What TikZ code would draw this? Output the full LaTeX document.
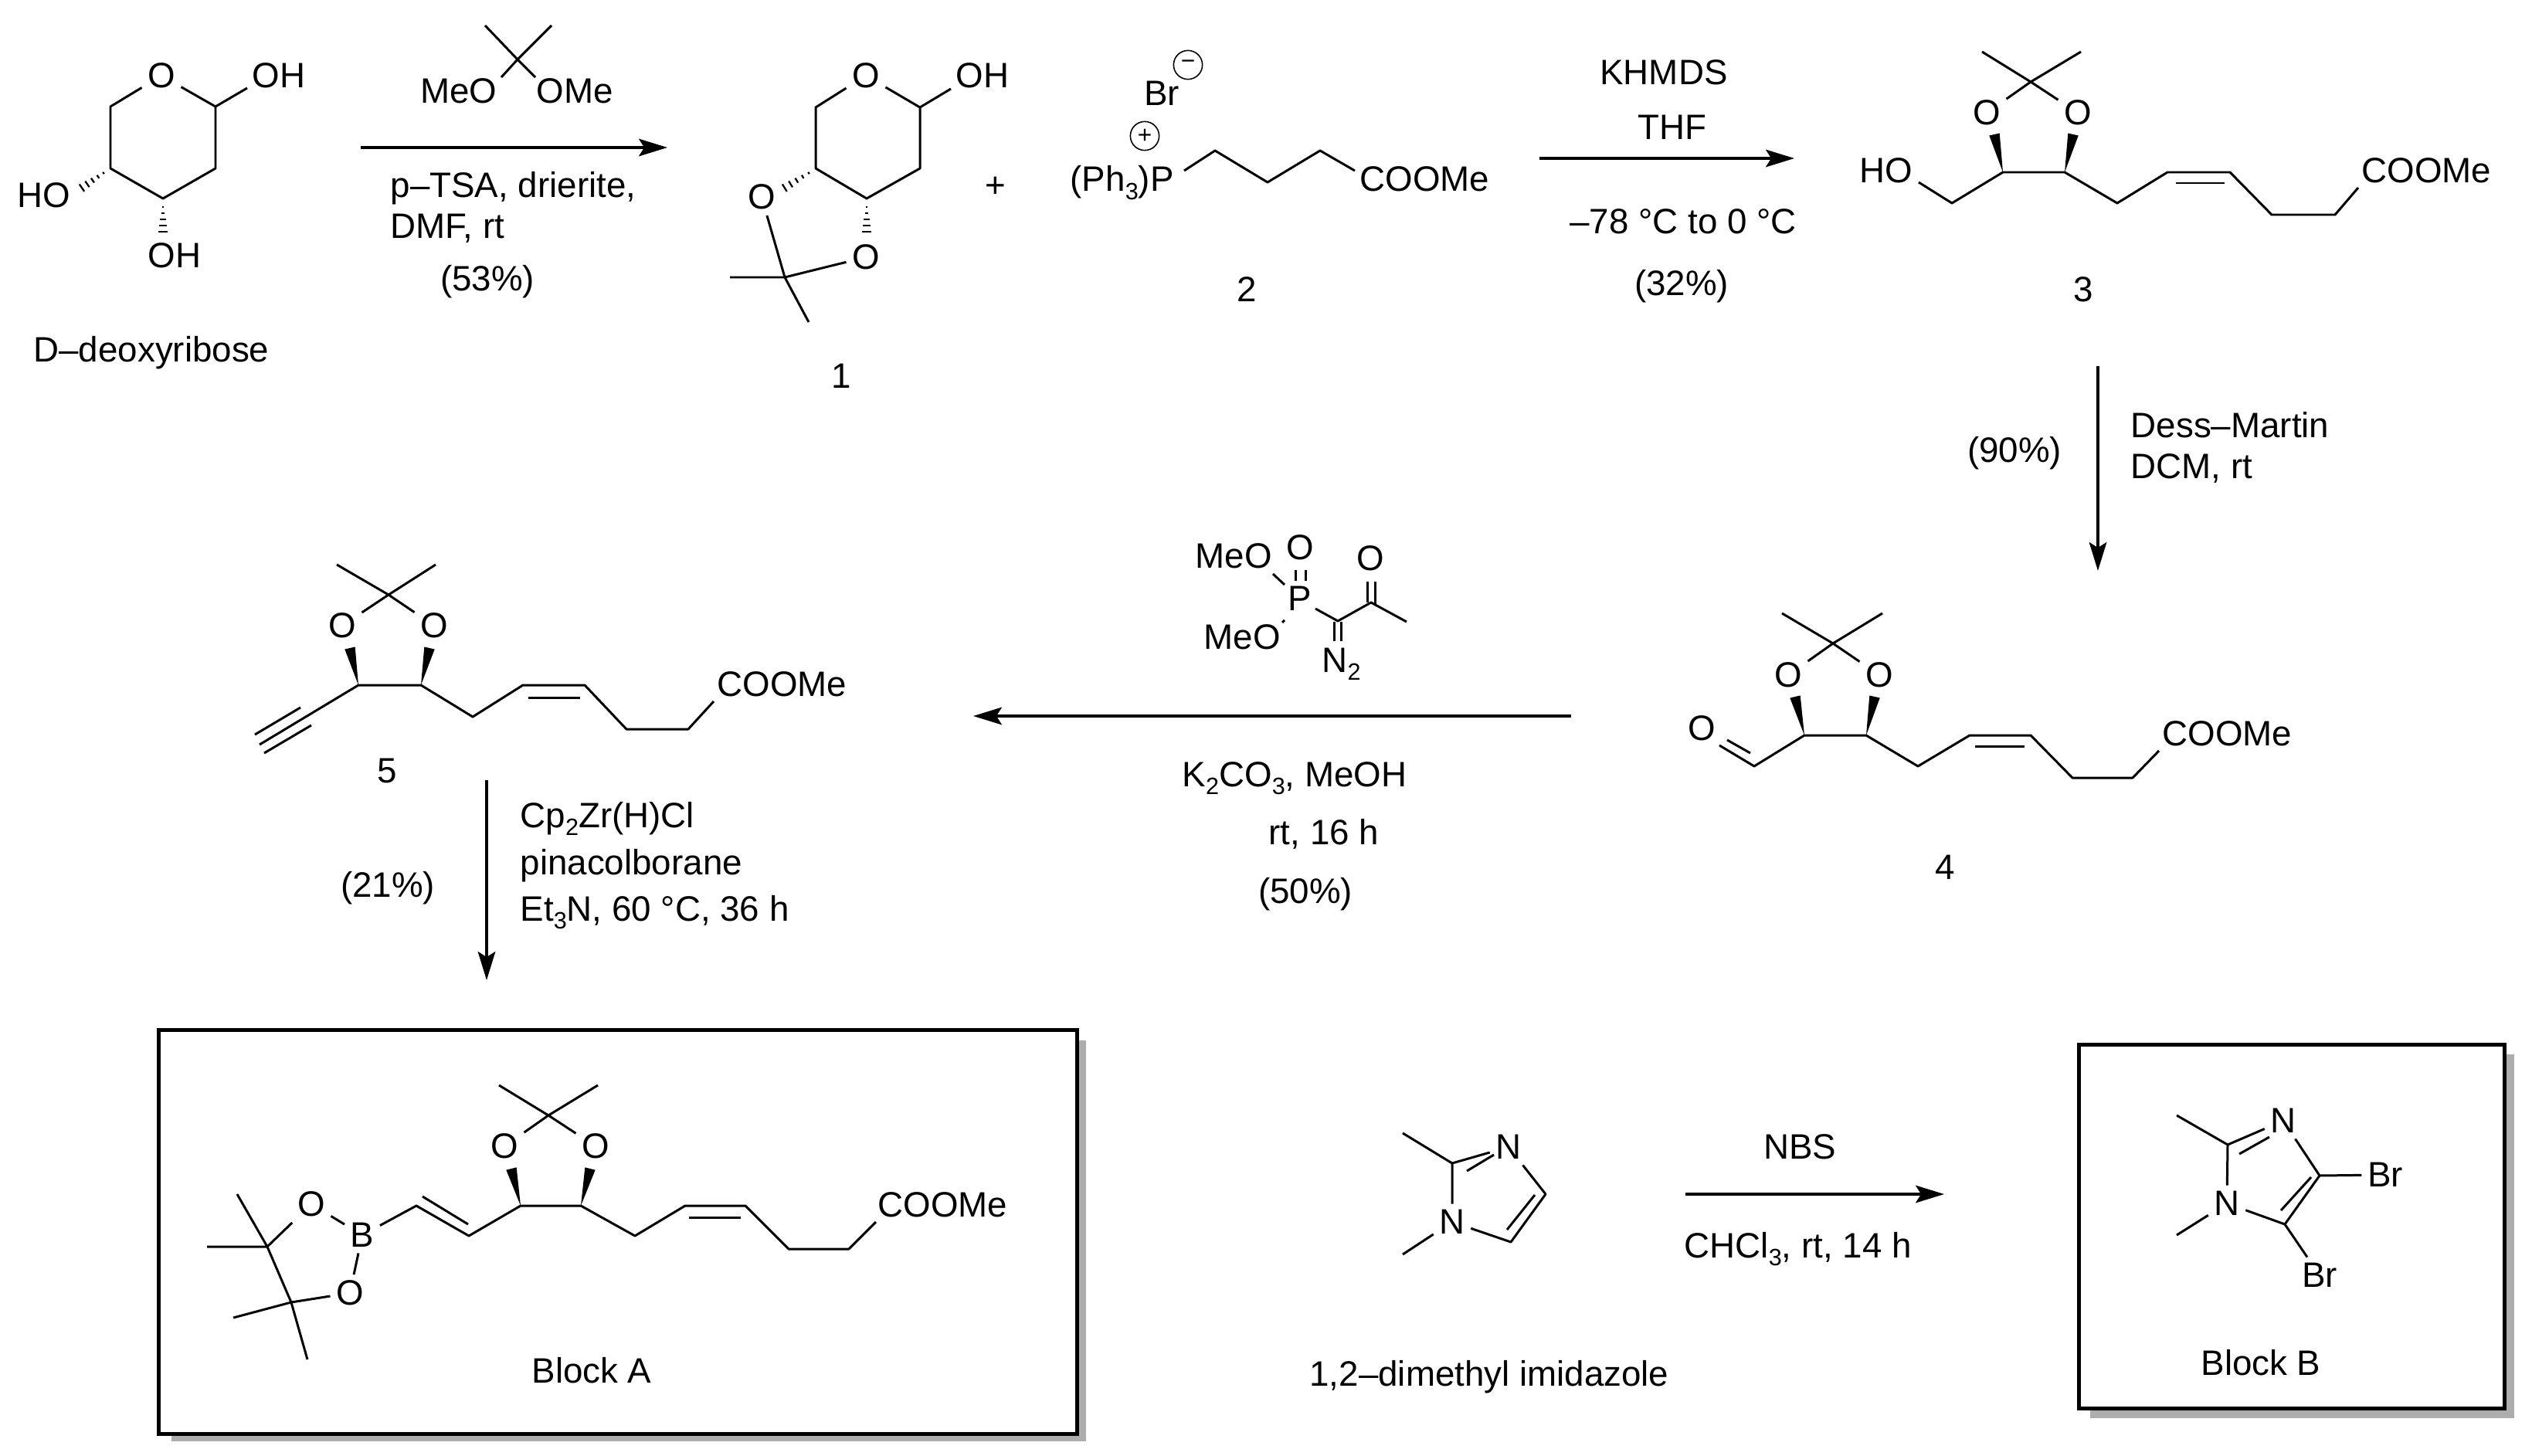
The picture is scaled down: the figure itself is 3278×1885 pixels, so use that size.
\documentclass[tikz,border=0pt]{standalone}
\usepackage{fontspec}
\setmainfont{Liberation Sans}
\usetikzlibrary{arrows.meta,calc}
\newcommand\chemsub[1]{\raisebox{-.22em}{\fontsize{8.7}{10}\selectfont #1}}
\newcommand\hashbond[2]{\foreach \hf in {0,0.2,0.4,0.6,0.8,1}{\pgfmathsetmacro\hw{0.4+1.5*\hf}\draw[hashline] ($(#1)!\hf!(#2)!\hw pt!90:(#2)$) -- ($(#1)!\hf!(#2)!\hw pt!-90:(#2)$);}}
\newcommand\wedgebond[2]{\fill ($(#2)!1.95pt!90:(#1)$) -- (#1) -- ($(#2)!1.95pt!-90:(#1)$) -- cycle;}
\tikzset{
  lab/.style={font=\fontsize{13}{15}\selectfont,inner sep=0pt},
  tc/.style={lab,anchor=center},
  tl/.style={lab,anchor=base west},
  atom/.style={lab,anchor=center,inner sep=2pt},
  bond/.style={line width=0.85pt,line join=round},
  hashline/.style={line width=0.65pt},
  rxn/.style={line width=1pt,-{Stealth[length=10.5pt,width=6.4pt,inset=2pt]}},
  chg/.style={circle,draw,line width=0.45pt,minimum size=10.6pt,inner sep=0pt,font=\fontsize{9}{10}\selectfont},
  blockbox/.style={draw,line width=1.4pt,fill=white},
  blockshadow/.style={fill=black!32},
}
\begin{document}
\begin{tikzpicture}[x=0.01cm,y=-0.01cm]
\useasboundingbox (0,0) rectangle (3278,1885);
% ---------- D-deoxyribose
\coordinate (a1) at (143,138);\coordinate (a2) at (279,138);\coordinate (a3) at (279,218);\coordinate (a4) at (211,257);\coordinate (a5) at (143,218);
\coordinate (aoh) at (320,114);\coordinate (ah1) at (134,224);\coordinate (ah2) at (99,248);\coordinate (ah3) at (211,268);\coordinate (ah4) at (211,308);
\node[atom] (aO) at (209,98) {O};
\node[tc] (aOH1) at (361,98) {OH};
\node[tc] (aHO) at (57,253) {HO};
\node[tc] (aOH2) at (226,331) {OH};
\draw[bond] (aO) -- (a1) -- (a5) -- (a4) -- (a3) -- (a2) -- (aO);
\draw[bond] (a2) -- (aoh);
\hashbond{ah1}{ah2}
\hashbond{ah3}{ah4}
\node[tc] (aName) at (196,457) {D–deoxyribose};
% ---------- dimethoxypropane
\coordinate (d0) at (670,77);\coordinate (d1) at (628,33);\coordinate (d2) at (714,33);\coordinate (d3) at (649,100);\coordinate (d4) at (693,100);
\draw[bond] (d1) -- (d0) -- (d4);
\draw[bond] (d2) -- (d0) -- (d3);
\node[tc] (dMeO) at (594,118) {MeO};
\node[tc] (dOMe) at (744,118) {OMe};
% arrow 1
\coordinate (r1s) at (467,191);\coordinate (r1e) at (864,191);
\draw[rxn] (r1s) -- (r1e);
\node[tl] (r1a) at (505,255) {p–TSA, drierite,};
\node[tl] (r1b) at (505,308) {DMF, rt};
\node[tc] (r1c) at (631,365) {(53\%)};
% ---------- compound 1
\coordinate (b1) at (1056,139);\coordinate (b2) at (1191,139);\coordinate (b3) at (1191,218);\coordinate (b4) at (1122,257);\coordinate (b5) at (1056,218);
\coordinate (boh) at (1231,115);\coordinate (bh1) at (1047,224);\coordinate (bh2) at (1008,248);\coordinate (bh3) at (1122,268);\coordinate (bh4) at (1122,308);
\coordinate (bc) at (1016,359);\coordinate (bm1) at (945,359);\coordinate (bm2) at (1047,417);
\node[atom] (bO) at (1121,98) {O};
\node[tc] (bOH) at (1272,98) {OH};
\node[atom] (bO1) at (986,255) {O};
\node[atom] (bO2) at (1121,333) {O};
\draw[bond] (bO) -- (b1) -- (b5) -- (b4) -- (b3) -- (b2) -- (bO);
\draw[bond] (b2) -- (boh);
\hashbond{bh1}{bh2}
\hashbond{bh3}{bh4}
\draw[bond] (bO1) -- (bc) -- (bO2);
\draw[bond] (bm1) -- (bc) -- (bm2);
\node[tc] (bName) at (1089,487) {1};
\node[tc] (plus) at (1289,242) {+};
% ---------- compound 2
\node[tc] (cBr) at (1504,121) {Br};
\node[chg] (cMinus) at (1538,84) {−};
\node[chg] (cPlus) at (1482,176) {+};
\node[tl] (cP) at (1385,248) {(Ph\chemsub{3})P};
\coordinate (c1) at (1533,221);\coordinate (c2) at (1573,195);\coordinate (c3) at (1641,236);\coordinate (c4) at (1709,195);\coordinate (c5) at (1754,221);
\draw[bond] (c1) -- (c2) -- (c3) -- (c4) -- (c5);
\node[tl] (cE) at (1760,248) {COOMe};
\node[tc] (cName) at (1614,375) {2};
% arrow 2
\coordinate (r2s) at (1993,205);\coordinate (r2e) at (2323,205);
\draw[rxn] (r2s) -- (r2e);
\node[tc] (r2a) at (2154,94) {KHMDS};
\node[tc] (r2b) at (2165,165) {THF};
\node[tc] (r2c) at (2179,287) {–78 °C to 0 °C};
\node[tc] (r2d) at (2177,371) {(32\%)};
% ---------- compound 3
\coordinate (e0) at (2629,106);\coordinate (em1) at (2566,67);\coordinate (em2) at (2694,67);
\node[atom] (eO1) at (2572,146) {O};
\node[atom] (eO2) at (2690,146) {O};
\draw[bond] (em1) -- (e0) -- (eO2);
\draw[bond] (em2) -- (e0) -- (eO1);
\coordinate (ew1) at (2582,174);\coordinate (ew2) at (2684,174);
\coordinate (e1) at (2593,223);\coordinate (e2) at (2673,223);
\wedgebond{e1}{ew1}
\wedgebond{e2}{ew2}
\node[tc] (eHO) at (2442,221) {HO};
\coordinate (eoh) at (2484,236);\coordinate (e3) at (2527,263);\coordinate (e4) at (2741,263);\coordinate (e5) at (2806,223);\coordinate (e6) at (2887,223);
\coordinate (e7) at (2941,278);\coordinate (e8) at (3023,278);\coordinate (e9) at (3053,243);\coordinate (ei1) at (2817,237);\coordinate (ei2) at (2880,237);
\draw[bond] (eoh) -- (e3) -- (e1) -- (e2) -- (e4) -- (e5) -- (e6) -- (e7) -- (e8) -- (e9);
\draw[bond] (ei1) -- (ei2);
\node[tl] (eE) at (3057,237) {COOMe};
\node[tc] (eName) at (2697,375) {3};
% arrow DMP
\coordinate (r3s) at (2716,474);\coordinate (r3e) at (2716,739);
\draw[rxn] (r3s) -- (r3e);
\node[tl] (r3a) at (2758,566) {Dess–Martin};
\node[tl] (r3b) at (2758,619) {DCM, rt};
\node[tc] (r3c) at (2608,587) {(90\%)};
% ---------- compound 4
\coordinate (f0) at (2373,833);\coordinate (fm1) at (2307,794);\coordinate (fm2) at (2437,794);
\node[atom] (fO1) at (2315,874) {O};
\node[atom] (fO2) at (2433,874) {O};
\draw[bond] (fm1) -- (f0) -- (fO2);
\draw[bond] (fm2) -- (f0) -- (fO1);
\coordinate (fw1) at (2324,902);\coordinate (fw2) at (2427,902);
\coordinate (f1) at (2336,952);\coordinate (f2) at (2416,952);
\wedgebond{f1}{fw1}
\wedgebond{f2}{fw2}
\coordinate (fa) at (2271,992);\coordinate (fa1) at (2226,965);\coordinate (fa2) at (2266,975);\coordinate (fa3) at (2236,958);
\node[tc] (fO) at (2203,943) {O};
\coordinate (f3) at (2483,992);\coordinate (f4) at (2550,952);\coordinate (f5) at (2629,952);\coordinate (f6) at (2683,1007);\coordinate (f7) at (2761,1007);\coordinate (f8) at (2795,972);
\coordinate (fi1) at (2557,966);\coordinate (fi2) at (2621,966);
\draw[bond] (fa1) -- (fa) -- (f1) -- (f2) -- (f3) -- (f4) -- (f5) -- (f6) -- (f7) -- (f8);
\draw[bond] (fa2) -- (fa3);
\draw[bond] (fi1) -- (fi2);
\node[tl] (fE) at (2799,965) {COOMe};
\node[tc] (fName) at (2518,1123) {4};
% ---------- Ohira-Bestmann reagent
\node[tl] (gMeO1) at (1547,735) {MeO};
\node[tl] (gMeO2) at (1558,840) {MeO};
\node[atom] (gO1) at (1683,709) {O};
\node[atom] (gO2) at (1774,723) {O};
\node[atom] (gP) at (1683,775) {P};
\coordinate (gb1) at (1648,743);\coordinate (gb2) at (1663,757);\coordinate (gb3) at (1660,806);\coordinate (gb4) at (1663,803);
\draw[bond] (gb1) -- (gb2);
\draw[bond] (gb3) -- (gb4);
\coordinate (gd1) at (1677,738);\coordinate (gd2) at (1677,752);\coordinate (gd3) at (1690,738);\coordinate (gd4) at (1690,752);
\draw[bond] (gd1) -- (gd2);
\draw[bond] (gd3) -- (gd4);
\coordinate (gc1) at (1732,804);\coordinate (gc2) at (1775,780);\coordinate (gme) at (1821,805);\coordinate (gp) at (1703,788);
\draw[bond] (gp) -- (gc1) -- (gc2) -- (gme);
\coordinate (gk1) at (1770,753);\coordinate (gk2) at (1770,780);\coordinate (gk3) at (1780,753);\coordinate (gk4) at (1780,783);
\draw[bond] (gk1) -- (gk2);
\draw[bond] (gk3) -- (gk4);
\coordinate (gn1) at (1727,805);\coordinate (gn2) at (1727,830);\coordinate (gn3) at (1736,805);\coordinate (gn4) at (1736,830);
\draw[bond] (gn1) -- (gn2);
\draw[bond] (gn3) -- (gn4);
\node[tl] (gN) at (1711,870) {N\chemsub{2}};
% arrow 4
\coordinate (r4s) at (2034,927);\coordinate (r4e) at (1260,927);
\draw[rxn] (r4s) -- (r4e);
\node[tl] (r4a) at (1530,1018) {K\chemsub{2}CO\chemsub{3}, MeOH};
\node[tl] (r4b) at (1642,1093) {rt, 16 h};
\node[tc] (r4c) at (1690,1158) {(50\%)};
% ---------- compound 5
\coordinate (h0) at (503,770);\coordinate (hm1) at (436,731);\coordinate (hm2) at (564,731);
\node[atom] (hO1) at (443,810) {O};
\node[atom] (hO2) at (562,810) {O};
\draw[bond] (hm1) -- (h0) -- (hO2);
\draw[bond] (hm2) -- (h0) -- (hO1);
\coordinate (hw1) at (453,839);\coordinate (hw2) at (556,839);
\coordinate (h1) at (464,887);\coordinate (h2) at (545,887);
\wedgebond{h1}{hw1}
\wedgebond{h2}{hw2}
\coordinate (ha) at (336,964);\coordinate (hb1) at (389,916);\coordinate (hb2) at (330,951);\coordinate (hb3) at (403,939);\coordinate (hb4) at (342,975);
\coordinate (h3) at (612,928);\coordinate (h4) at (677,887);\coordinate (h5) at (757,887);\coordinate (h6) at (811,944);\coordinate (h7) at (891,944);\coordinate (h8) at (924,908);
\coordinate (hi1) at (684,903);\coordinate (hi2) at (751,903);
\draw[bond] (ha) -- (h1) -- (h2) -- (h3) -- (h4) -- (h5) -- (h6) -- (h7) -- (h8);
\draw[bond] (hb1) -- (hb2);
\draw[bond] (hb3) -- (hb4);
\draw[bond] (hi1) -- (hi2);
\node[tl] (hE) at (928,901) {COOMe};
\node[tc] (hName) at (501,998) {5};
% arrow 5
\coordinate (r5s) at (630,1010);\coordinate (r5e) at (630,1269);
\draw[rxn] (r5s) -- (r5e);
\node[tl] (r5a) at (673,1071) {Cp\chemsub{2}Zr(H)Cl};
\node[tl] (r5b) at (673,1132) {pinacolborane};
\node[tl] (r5c) at (673,1192) {Et\chemsub{3}N, 60 °C, 36 h};
\node[tc] (r5d) at (502,1150) {(21\%)};
% ---------- Block A
\path[blockshadow] (222,1347) rectangle (1406,1866);
\node[blockbox,inner sep=0pt,anchor=north west,minimum width=11.88cm,minimum height=5.23cm] (boxA) at (203,1331) {};
\coordinate (k0) at (710,1444);\coordinate (km1) at (646,1405);\coordinate (km2) at (774,1405);
\node[atom] (kO1) at (653,1484) {O};
\node[atom] (kO2) at (771,1484) {O};
\draw[bond] (km1) -- (k0) -- (kO2);
\draw[bond] (km2) -- (k0) -- (kO1);
\coordinate (kw1) at (662,1513);\coordinate (kw2) at (764,1513);
\coordinate (k1) at (674,1561);\coordinate (k2) at (752,1561);
\wedgebond{k1}{kw1}
\wedgebond{k2}{kw2}
\node[atom] (kB) at (469,1599) {B};
\node[atom] (kO3) at (403,1559) {O};
\node[atom] (kO4) at (453,1674) {O};
\coordinate (kv1) at (539,1561);\coordinate (kv2) at (607,1600);\coordinate (kvi1) at (547,1549);\coordinate (kvi2) at (606,1585);
\draw[bond] (kB) -- (kv1) -- (kv2) -- (k1) -- (k2);
\draw[bond] (kvi1) -- (kvi2);
\draw[bond] (kB) -- (kO3);
\draw[bond] (kB) -- (kO4);
\coordinate (kc1) at (346,1614);\coordinate (kc2) at (377,1686);\coordinate (kp1) at (307,1546);\coordinate (kp2) at (268,1614);\coordinate (kp3) at (302,1706);\coordinate (kp4) at (398,1760);
\draw[bond] (kp1) -- (kc1) -- (kc2) -- (kp4);
\draw[bond] (kp2) -- (kc1) -- (kO3);
\draw[bond] (kp3) -- (kc2) -- (kO4);
\coordinate (k3) at (822,1600);\coordinate (k4) at (887,1561);\coordinate (k5) at (965,1561);\coordinate (k6) at (1021,1617);\coordinate (k7) at (1099,1617);\coordinate (k8) at (1134,1582);
\coordinate (ki1) at (892,1576);\coordinate (ki2) at (959,1576);
\draw[bond] (k2) -- (k3) -- (k4) -- (k5) -- (k6) -- (k7) -- (k8);
\draw[bond] (ki1) -- (ki2);
\node[tl] (kE) at (1136,1575) {COOMe};
\node[tc] (kName) at (766,1774) {Block A};
% ---------- 1,2-dimethyl imidazole
\coordinate (m2) at (1880,1506);\coordinate (mme) at (1816,1467);\coordinate (m4) at (2001,1546);\coordinate (m5) at (1956,1608);\coordinate (mme2) at (1816,1624);
\node[atom] (mN3) at (1953,1485) {N};
\node[atom] (mN1) at (1880,1582) {N};
\draw[bond] (mme) -- (m2) -- (mN1);
\draw[bond] (m2) -- (mN3);
\draw[bond] (mN3) -- (m4) -- (m5) -- (mN1);
\draw[bond] (mN1) -- (mme2);
\coordinate (mi1) at (1899,1516);\coordinate (mi2) at (1934,1495);\coordinate (mi3) at (1987,1547);\coordinate (mi4) at (1951,1592);
\draw[bond] (mi1) -- (mi2);
\draw[bond] (mi3) -- (mi4);
\node[tc] (mName) at (1928,1783) {1,2–dimethyl imidazole};
% arrow 6
\coordinate (r6s) at (2182,1546);\coordinate (r6e) at (2517,1546);
\draw[rxn] (r6s) -- (r6e);
\node[tc] (r6a) at (2330,1485) {NBS};
\node[tl] (r6b) at (2180,1628) {CHCl\chemsub{3}, rt, 14 h};
% ---------- Block B
\path[blockshadow] (2706,1365) rectangle (3255,1836);
\node[blockbox,inner sep=0pt,anchor=north west,minimum width=5.51cm,minimum height=4.71cm] (boxB) at (2689,1350) {};
\coordinate (n2) at (2884,1482);\coordinate (nme) at (2818,1444);\coordinate (n4) at (3003,1522);\coordinate (n5) at (2958,1585);\coordinate (nme2) at (2818,1599);
\node[atom] (nN3) at (2956,1451) {N};
\node[atom] (nN1) at (2883,1558) {N};
\node[atom] (nBr1) at (3088,1521) {Br};
\node[atom] (nBr2) at (3003,1651) {Br};
\draw[bond] (nme) -- (n2) -- (nN1);
\draw[bond] (n2) -- (nN3);
\draw[bond] (nN3) -- (n4) -- (n5) -- (nN1);
\draw[bond] (nN1) -- (nme2);
\draw[bond] (n4) -- (nBr1);
\draw[bond] (n5) -- (nBr2);
\coordinate (ni1) at (2899,1494);\coordinate (ni2) at (2938,1472);\coordinate (ni3) at (2992,1524);\coordinate (ni4) at (2953,1567);
\draw[bond] (ni1) -- (ni2);
\draw[bond] (ni3) -- (ni4);
\node[tc] (nName) at (2927,1764) {Block B};
\end{tikzpicture}
\end{document}
